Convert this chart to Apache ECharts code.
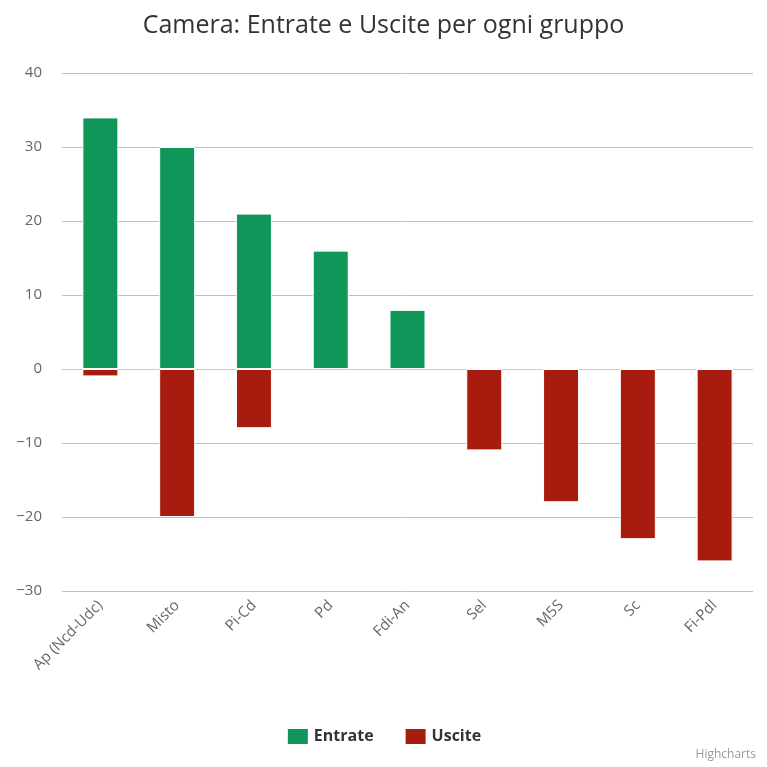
<!DOCTYPE html>
<html>
<head>
<meta charset="utf-8">
<script src="https://cdn.jsdelivr.net/npm/echarts@6/dist/echarts.min.js"></script>
<style>
  html, body { margin: 0; padding: 0; background: #fff; }
  #chart { width: 767px; height: 767px; }
</style>
</head>
<body>
<div id="chart"></div>
<script>
  var gruppi = ['Ap (Ncd-Udc)', 'Misto', 'Pi-Cd', 'Pd', 'Fdi-An', 'Sel', 'M5S', 'Sc', 'Fi-Pdl'];
  var entrate = [34, 30, 21, 16, 8, 0, 0, 0, 0];
  var uscite = [-1, -20, -8, 0, 0, -11, -18, -23, -26];

  var font = '"Open Sans", "DejaVu Sans", sans-serif';
  var myChart = echarts.init(document.getElementById('chart'));
  var option = {
    animation: false,
    title: [{
      text: 'Camera: Entrate e Uscite per ogni gruppo',
      left: 'center',
      top: 8,
      textStyle: { fontFamily: font, fontSize: 25, fontWeight: 'normal', color: '#333' }
    }, {
      text: 'Highcharts',
      right: 6,
      bottom: 1,
      textStyle: { fontFamily: font, fontSize: 12, fontWeight: 'normal', color: '#999' }
    }],
    legend: {
      bottom: 16,
      left: 'center',
      itemWidth: 22,
      itemHeight: 17,
      itemGap: 30,
      icon: 'rect',
      textStyle: { fontFamily: font, fontSize: 16, fontWeight: 'bold', color: '#333' },
      data: ['Entrate', 'Uscite']
    },
    grid: { left: 62, right: 14, top: 73, bottom: 176 },
    xAxis: {
      type: 'category',
      data: gruppi,
      axisLine: { lineStyle: { color: '#c0d0e0' } },
      axisTick: { length: 11, lineStyle: { color: '#b8c8d8' } },
      axisLabel: {
        rotate: 45,
        margin: 12,
        fontFamily: font,
        fontSize: 15,
        color: '#666'
      }
    },
    yAxis: {
      type: 'value',
      min: -30,
      max: 40,
      interval: 10,
      axisLine: { show: false },
      axisTick: { show: false },
      splitLine: { lineStyle: { color: '#c0c0c0' } },
      axisLabel: {
        margin: 20,
        fontFamily: font,
        fontSize: 15,
        color: '#666',
        formatter: function (v) { return String(v).replace('-', '\u2212'); }
      }
    },
    series: [{
      name: 'Entrate',
      type: 'bar',
      stack: 'tot',
      barWidth: 36,
      itemStyle: { color: '#109658', borderColor: '#fff', borderWidth: 1 },
      data: entrate
    }, {
      name: 'Uscite',
      type: 'bar',
      stack: 'tot',
      barWidth: 36,
      itemStyle: { color: '#a81c10', borderColor: '#fff', borderWidth: 1 },
      data: uscite
    }]
  };
  myChart.setOption(option);
</script>
</body>
</html>
